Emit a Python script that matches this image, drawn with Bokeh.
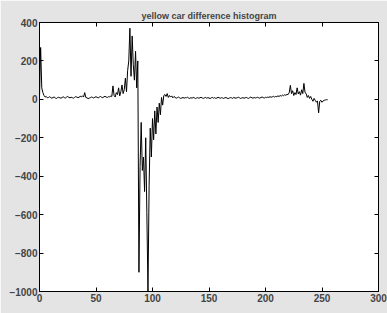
import numpy as np
from bokeh.plotting import figure
from bokeh.models import LinearAxis, FixedTicker, Range1d, CustomJSTickFormatter
from bokeh.embed import file_html
from bokeh.resources import INLINE

title_text = "yellow car difference histogram"
x_ticks = [0, 50, 100, 150, 200, 250, 300]
y_ticks = [-1000, -800, -600, -400, -200, 0, 200, 400]

values = [
    10, 270, 60, 35, 20, 12, 15, 8, 10, 14,
    9, 6, 10, 12, 7, 5, 9, 11, 8, 6,
    10, 13, 9, 7, 12, 15, 10, 8, 11, 9,
    6, 10, 14, 12, 9, 11, 16, 13, 18, 12,
    35, 10, 8, 4, 6, 9, 12, 10, 7, 11,
    14, 10, 8, 12, 15, 11, 9, 13, 16, 12,
    10, 14, 12, 18, 15, 70, 20, 12, 35, 25,
    60, 18, 40, 75, 30, 50, 110, 40, 150, 200,
    370, 120, 330, 180, 100, 250, 60, 200, -900, -350,
    -120, -370, -300, -480, -200, -590, -1000, -450, -150, -300,
    -100, -210, -60, -180, -40, -120, -20, -80, 10, -30,
    20, 25, 15, 30, 10, 20, 12, 18, 8, 15,
    10, 6, 9, 12, 8, 5, 7, 10, 6, 9,
    8, 11, 7, 5, 9, 6, 10, 8, 4, 7,
    9, 6, 8, 11, 7, 5, 8, 10, 6, 9,
    7, 4, 8, 10, 6, 9, 5, 7, 11, 8,
    6, 9, 7, 5, 8, 10, 6, 4, 7, 9,
    8, 5, 10, 7, 6, 9, 11, 8, 5, 7,
    9, 6, 8, 10, 7, 5, 9, 12, 8, 6,
    10, 7, 9, 11, 8, 6, 10, 12, 9, 7,
    11, 9, 12, 10, 14, 11, 13, 16, 12, 15,
    14, 18, 15, 20, 17, 22, 19, 24, 21, 26,
    25, 35, 73, 30, 45, 20, 35, 25, 60, 28,
    40, 22, 50, 30, 83, 35, 30, 10, 20, 5,
    15, 0, -10, 5, -5, -15, -8, -70, -10, -5,
    -15, -8, -5, -3, -2, -2,
]
xs = list(range(len(values)))

p = figure(frame_width=339, frame_height=269, output_backend="svg", toolbar_location=None,
           x_range=Range1d(0, 300), y_range=Range1d(-1000, 400),
           x_axis_location=None, y_axis_location=None,
           min_border_left=39, min_border_right=9, min_border_top=22, min_border_bottom=22)
p.title.text = title_text
p.title.align = "center"
p.title.text_font = "Liberation Sans"
p.title.text_font_size = "9px"
p.title.text_font_style = "bold"
p.title.offset = 0
p.title.standoff = 4
p.border_fill_color = "#e4e4e4"
p.background_fill_color = "white"
p.outline_line_color = "black"
p.outline_line_width = 1
p.xgrid.visible = False
p.ygrid.visible = False

blank = CustomJSTickFormatter(code="return ''")

def style(ax, labels=True):
    ax.major_tick_in = 4
    ax.major_tick_out = 0
    ax.minor_tick_line_color = None
    ax.axis_line_color = "black"
    ax.major_tick_line_color = "black"
    ax.major_label_text_font = "Liberation Sans"
    ax.major_label_text_font_style = "bold"
    ax.major_label_text_font_size = "10px"
    ax.major_label_standoff = 2
    if not labels:
        ax.formatter = blank
        ax.major_label_standoff = 0

xb = LinearAxis(ticker=FixedTicker(ticks=x_ticks)); style(xb)
yl = LinearAxis(ticker=FixedTicker(ticks=y_ticks)); style(yl)
xt = LinearAxis(ticker=FixedTicker(ticks=x_ticks)); style(xt, False)
yr = LinearAxis(ticker=FixedTicker(ticks=y_ticks)); style(yr, False)
p.add_layout(xb, "below")
p.add_layout(yl, "left")
p.add_layout(xt, "above")
p.add_layout(yr, "right")

p.line(xs, values, line_color="black", line_width=1)

open("out.html", "w").write(file_html(p, INLINE))
